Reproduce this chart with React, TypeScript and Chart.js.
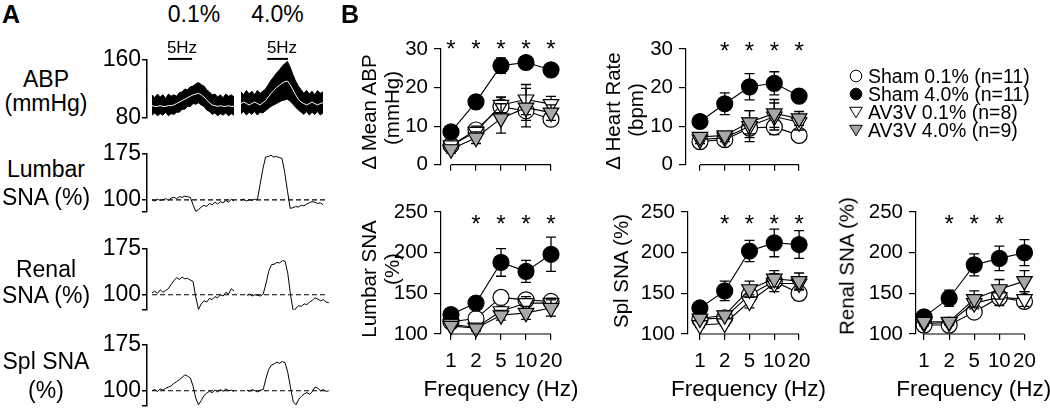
import React, { useEffect, useRef } from "react";
import { Chart, registerables } from "chart.js";

Chart.register(...registerables);

const FONT = "'Liberation Sans', Arial, Helvetica, sans-serif";
Chart.defaults.font.family = FONT;

/* ================= Panel A : example recordings ================= */
const A_DT = 1.5; // seconds between samples
const A_T_MIN = -2.75;
const A_T_MAX = 100.4;
const A_START_01 = 0;
const A_START_40 = [48.8, 48.8, 52, 52]; // ABP, Lumbar, Renal, Spl
const A_DASH_END = 95;
const STIM_01 = [8.8, 22.0];
const STIM_40 = [63.2, 74.6];
const STIM_LEVEL = 161.5;

const ABP_TICKS = [80, 160];
const LUMBAR_TICKS = [80, 100, 175];
const RENAL_TICKS = [75, 100, 175];
const SPL_TICKS = [75, 100, 175];
const ABP_LABELED = [80, 160];
const SNA_LABELED = [100, 175];

const abpMean01 = [97, 96, 96, 97, 96, 96, 97, 97, 98, 100, 102, 104, 106, 108, 110, 112, 113, 114, 112, 109, 105, 101, 98, 97, 96, 97, 96, 96, 97, 96, 96];
const abpUpper01 = [112, 108, 113, 109, 112, 107, 113, 110, 112, 110, 115, 116, 120, 119, 123, 124, 127, 129, 126, 124, 119, 116, 112, 113, 109, 112, 108, 113, 110, 112, 109];
const abpLower01 = [84, 87, 83, 86, 84, 88, 83, 86, 85, 88, 88, 92, 92, 96, 96, 100, 99, 101, 98, 96, 91, 89, 85, 87, 83, 86, 84, 87, 83, 86, 84];
const abpMean40 = [100, 102, 100, 98, 100, 102, 100, 98, 101, 104, 109, 114, 118, 122, 125, 128, 130, 131, 126, 119, 112, 106, 102, 100, 98, 100, 102, 100, 98, 100, 101];
const abpUpper40 = [116, 112, 118, 113, 117, 112, 118, 114, 117, 120, 126, 132, 137, 142, 146, 151, 155, 158, 150, 140, 131, 124, 119, 114, 118, 113, 117, 112, 118, 114, 116];
const abpLower40 = [86, 89, 84, 88, 85, 89, 84, 88, 87, 90, 93, 96, 98, 100, 102, 104, 105, 106, 103, 99, 95, 91, 88, 85, 89, 84, 88, 85, 89, 84, 87];

const lumbar01 = [100, 98, 101, 99, 100, 102, 99, 103, 104, 102, 105, 104, 106, 105, 104, 92, 81, 84, 88, 91, 89, 94, 92, 96, 93, 97, 95, 99, 96, 101, 98];
const lumbar40 = [99, 101, 98, 100, 99, 101, 100, 125, 150, 170, 171, 173, 170, 171, 169, 168, 145, 115, 86, 87, 89, 88, 91, 90, 93, 95, 97, 96, 94, 95, 92];
const renal01 = [103, 106, 102, 108, 104, 107, 110, 117, 123, 128, 125, 129, 126, 127, 124, 122, 96, 76, 85, 90, 88, 94, 92, 97, 95, 100, 98, 104, 101, 110, 106];
const renal40 = [99, 101, 98, 100, 99, 98, 101, 118, 138, 149, 150, 153, 152, 156, 155, 135, 100, 73, 78, 82, 81, 85, 84, 88, 91, 95, 93, 90, 92, 88, 87];
const spl01 = [100, 102, 99, 103, 101, 104, 106, 108, 112, 115, 118, 122, 126, 124, 121, 108, 88, 77, 84, 92, 96, 99, 97, 101, 98, 102, 99, 103, 100, 101, 99];
const spl40 = [101, 99, 102, 100, 98, 101, 102, 120, 135, 142, 144, 147, 145, 148, 146, 130, 105, 82, 77, 86, 91, 95, 97, 94, 99, 106, 104, 100, 102, 99, 100];

/* ================= Panel B : frequency responses ================= */
const FREQ_LABELS = ["1", "2", "5", "10", "20"];
const SERIES_NAMES = ["Sham 0.1% (n=11)", "Sham 4.0% (n=11)", "AV3V 0.1% (n=8)", "AV3V 4.0% (n=9)"];
const TOP_Y_TICKS = [0, 10, 20, 30];
const BOTTOM_Y_TICKS = [100, 150, 200, 250];

// Δ Mean ABP (mmHg)
const mapSham01 = [5, 9, 15, 14, 11.8];
const mapSham01Err = [0.8, 1.2, 2.5, 2.5, 1.5];
const mapSham40 = [8.5, 16.3, 25.7, 26.5, 24.6];
const mapSham40Err = [0.8, 1, 2, 1, 1.3];
const mapAv01 = [5, 8.5, 15.5, 16.9, 15.7];
const mapAv01Err = [1, 1.5, 2, 3.9, 2];
const mapAv40 = [4, 7, 12, 14.8, 13.5];
const mapAv40Err = [1, 1.5, 3.8, 5, 2];
const MAP_STARS = [1, 1, 1, 1, 1];

// Δ Heart Rate (bpm)
const hrSham01 = [6, 6.5, 9.5, 9.8, 7.6];
const hrSham01Err = [0.8, 0.8, 2.5, 2, 0.8];
const hrSham40 = [11.2, 15.8, 20.2, 21.1, 17.8];
const hrSham40Err = [1.2, 2.8, 3.4, 3, 1.2];
const hrAv01 = [6.5, 7, 10, 12.5, 11];
const hrAv01Err = [1, 1, 4, 3.5, 2];
const hrAv40 = [7.2, 7.6, 11, 13.3, 12];
const hrAv40Err = [1, 1, 3, 3.6, 1.8];
const HR_STARS = [0, 1, 1, 1, 1];

// Lumbar SNA (%)
const lumSham01 = [115, 119, 145, 142, 140];
const lumSham01Err = [3, 3, 6, 8, 6];
const lumSham40 = [124, 138, 188, 177, 198];
const lumSham40Err = [4, 5, 17, 13.5, 21];
const lumAv01 = [112, 108, 128, 138, 138];
const lumAv01Err = [3, 4, 6, 8, 6];
const lumAv40 = [110, 107, 123, 126, 132];
const lumAv40Err = [3, 3, 6, 8, 10];
const LUM_STARS = [0, 1, 1, 1, 1];

// Spl SNA (%)
const splSham01 = [118, 120, 148, 165, 150];
const splSham01Err = [3, 4, 8, 9, 8];
const splSham40 = [132, 153, 202, 212, 210];
const splSham40Err = [4, 12, 13, 17, 17];
const splAv01 = [111, 113, 140, 162, 162];
const splAv01Err = [3, 3, 8, 10, 8];
const splAv40 = [119, 123, 155, 168, 165];
const splAv40Err = [3, 3, 10, 10, 10];
const SPL_STARS = [0, 1, 1, 1, 1];

// Renal SNA (%)
const renSham01 = [111, 111, 127, 145, 140];
const renSham01Err = [3, 3, 5, 8, 8];
const renSham40 = [121, 144, 185, 193, 200];
const renSham40Err = [3, 10, 13.5, 15, 16];
const renAv01 = [113, 114, 138, 145, 143];
const renAv01Err = [3, 3, 7, 10, 9];
const renAv40 = [115, 115, 143, 155, 165];
const renAv40Err = [3, 3, 10, 12, 13];
const REN_STARS = [0, 1, 1, 1, 0];

/* ================= styles / geometry ================= */
const GRAY = "#a8a8a8";
const SERIES_STYLE = [
  { fill: "#ffffff", shape: "circle", r: 8, rot: 0, order: 4 },
  { fill: "#000000", shape: "circle", r: 8, rot: 0, order: 3 },
  { fill: "#ffffff", shape: "triangle", r: 9, rot: 180, order: 2 },
  { fill: GRAY, shape: "triangle", r: 9, rot: 180, order: 1 },
];

const A_ROWS = [
  { key: "abp", top: 44, plotH: 58, yMin: 80, yMax: 160, ticks: ABP_TICKS, labeled: ABP_LABELED },
  { key: "lumbar", top: 138, plotH: 58, yMin: 80, yMax: 175, ticks: LUMBAR_TICKS, labeled: SNA_LABELED, t01: lumbar01, t40: lumbar40 },
  { key: "renal", top: 233, plotH: 61, yMin: 75, yMax: 175, ticks: RENAL_TICKS, labeled: SNA_LABELED, t01: renal01, t40: renal40 },
  { key: "spl", top: 329, plotH: 61, yMin: 75, yMax: 175, ticks: SPL_TICKS, labeled: SNA_LABELED, t01: spl01, t40: spl40 },
];
const A_LEFT = 90;
const A_YW = 57;
const A_PLOTW = 188;

const B_PANELS = [
  {
    title: [{ t: "\u0394 Mean ABP", cx: 369, cy: 111.5 }, { t: "(mmHg)", cx: 391.5, cy: 108 }],
    left: 350, top: 25, yW: 91, plotW: 120, plotH: 124, padTop: 24, xH: 10,
    xMin: -0.4, xMax: 4.4, yTicks: TOP_Y_TICKS, showX: false,
    series: [mapSham01, mapSham40, mapAv01, mapAv40], errs: [mapSham01Err, mapSham40Err, mapAv01Err, mapAv40Err],
    stars: MAP_STARS, starVal: 31.5,
  },
  {
    title: [{ t: "\u0394 Heart Rate", cx: 613, cy: 111 }, { t: "(bpm)", cx: 636, cy: 110 }],
    left: 593, top: 25, yW: 93, plotW: 123.3, plotH: 124, padTop: 24, xH: 10,
    xMin: -0.565, xMax: 4.4, yTicks: TOP_Y_TICKS, showX: false,
    series: [hrSham01, hrSham40, hrAv01, hrAv40], errs: [hrSham01Err, hrSham40Err, hrAv01Err, hrAv40Err],
    stars: HR_STARS, starVal: 31,
  },
  {
    title: [{ t: "Lumbar SNA", cx: 369, cy: 279 }, { t: "(%)", cx: 391.5, cy: 269 }],
    left: 350, top: 188, yW: 91, plotW: 120, plotH: 122, padTop: 24, xH: 76,
    xMin: -0.4, xMax: 4.4, yTicks: BOTTOM_Y_TICKS, showX: true,
    series: [lumSham01, lumSham40, lumAv01, lumAv40], errs: [lumSham01Err, lumSham40Err, lumAv01Err, lumAv40Err],
    stars: LUM_STARS, starVal: 243,
  },
  {
    title: [{ t: "Spl SNA (%)", cx: 621, cy: 271 }],
    left: 601, top: 188, yW: 87, plotW: 121.2, plotH: 122, padTop: 24, xH: 76,
    xMin: -0.48, xMax: 4.4, yTicks: BOTTOM_Y_TICKS, showX: true,
    series: [splSham01, splSham40, splAv01, splAv40], errs: [splSham01Err, splSham40Err, splAv01Err, splAv40Err],
    stars: SPL_STARS, starVal: 243,
  },
  {
    title: [{ t: "Renal SNA (%)", cx: 847, cy: 266 }],
    left: 827, top: 188, yW: 89, plotW: 115.5, plotH: 122, padTop: 24, xH: 76,
    xMin: -0.32, xMax: 4.3, yTicks: BOTTOM_Y_TICKS, showX: true,
    series: [renSham01, renSham40, renAv01, renAv40], errs: [renSham01Err, renSham40Err, renAv01Err, renAv40Err],
    stars: REN_STARS, starVal: 243,
  },
];
const B_PADR = 14;
const B_TICK_FONT = 20.5;

/* ================= plugins ================= */
const errorBarPlugin = {
  id: "errorBars",
  beforeDatasetDraw(chart: any, args: any) {
    const ds = chart.data.datasets[args.index];
    if (!ds.errs) return;
    const yScale = chart.scales.y;
    const ctx = chart.ctx;
    ctx.save();
    ctx.strokeStyle = "#000";
    ctx.lineWidth = 1.3;
    args.meta.data.forEach((pt: any, i: number) => {
      const v = ds.data[i].y;
      const e = ds.errs[i];
      const yT = yScale.getPixelForValue(v + e);
      const yB = yScale.getPixelForValue(v - e);
      ctx.beginPath();
      ctx.moveTo(pt.x, yT);
      ctx.lineTo(pt.x, yB);
      ctx.moveTo(pt.x - 5, yT);
      ctx.lineTo(pt.x + 5, yT);
      ctx.moveTo(pt.x - 5, yB);
      ctx.lineTo(pt.x + 5, yB);
      ctx.stroke();
    });
    ctx.restore();
  },
};

const axisStarPlugin = {
  id: "axisStars",
  afterDraw(chart: any) {
    const opts = chart.options.plugins.axisStars;
    if (!opts) return;
    const { ctx, chartArea } = chart;
    const xs = chart.scales.x;
    const ys = chart.scales.y;
    ctx.save();
    ctx.strokeStyle = "#000";
    ctx.lineWidth = 1.2;
    ctx.beginPath();
    ctx.moveTo(xs.getPixelForValue(0), chartArea.bottom);
    ctx.lineTo(xs.getPixelForValue(FREQ_LABELS.length - 1), chartArea.bottom);
    ctx.stroke();
    ctx.fillStyle = "#000";
    ctx.font = `24px ${FONT}`;
    ctx.textAlign = "center";
    ctx.textBaseline = "alphabetic";
    const yc = ys.getPixelForValue(opts.starVal);
    opts.stars.forEach((s: number, i: number) => {
      if (s) ctx.fillText("*", xs.getPixelForValue(i), yc + 0.58 * 24);
    });
    ctx.restore();
  },
};

/* ================= HTML text helpers ================= */
function Txt(props: { x: number; y: number; size: number; align?: string; bold?: boolean; children: any }) {
  const { x, y, size, align = "center", bold = false, children } = props;
  return (
    <div
      style={{
        position: "absolute",
        left: x,
        top: y - 0.3465 * size,
        lineHeight: 0,
        fontSize: size,
        fontWeight: bold ? 700 : 400,
        whiteSpace: "nowrap",
        fontFamily: FONT,
        color: "#000",
        transform: align === "center" ? "translateX(-50%)" : align === "right" ? "translateX(-100%)" : "none",
      }}
    >
      {children}
    </div>
  );
}

function VText(props: { cx: number; cy: number; size: number; text: string }) {
  const { cx, cy, size, text } = props;
  return (
    <div
      style={{
        position: "absolute",
        left: cx,
        top: cy,
        transform: "translate(-50%, -50%) rotate(-90deg)",
        fontSize: size,
        lineHeight: `${size}px`,
        whiteSpace: "nowrap",
        fontFamily: FONT,
        color: "#000",
      }}
    >
      {text}
    </div>
  );
}

export default function App() {
  const aRefs = useRef<(HTMLCanvasElement | null)[]>([]);
  const bRefs = useRef<(HTMLCanvasElement | null)[]>([]);

  useEffect(() => {
    const charts: Chart[] = [];
    const pts = (arr: number[], start: number) => arr.map((y, k) => ({ x: start + k * A_DT, y }));

    A_ROWS.forEach((row: any, i: number) => {
      const cv = aRefs.current[i];
      if (!cv) return;
      const datasets: any[] = [];
      if (row.key === "abp") {
        const s40 = A_START_40[0];
        datasets.push(
          { data: pts(abpUpper01, A_START_01), borderColor: "#000", borderWidth: 1, backgroundColor: "#000", fill: "+1", pointRadius: 0, order: 2 },
          { data: pts(abpLower01, A_START_01), borderColor: "#000", borderWidth: 1, fill: false, pointRadius: 0, order: 2 },
          { data: pts(abpUpper40, s40), borderColor: "#000", borderWidth: 1, backgroundColor: "#000", fill: "+1", pointRadius: 0, order: 2 },
          { data: pts(abpLower40, s40), borderColor: "#000", borderWidth: 1, fill: false, pointRadius: 0, order: 2 },
          { data: pts(abpMean01, A_START_01), borderColor: "#ffffff", borderWidth: 1, fill: false, pointRadius: 0, order: 0 },
          { data: pts(abpMean40, s40), borderColor: "#ffffff", borderWidth: 1, fill: false, pointRadius: 0, order: 0 },
          { data: STIM_01.map((x) => ({ x, y: STIM_LEVEL })), borderColor: "#000", borderWidth: 2, pointRadius: 0, clip: false, order: 0 },
          { data: STIM_40.map((x) => ({ x, y: STIM_LEVEL })), borderColor: "#000", borderWidth: 2, pointRadius: 0, clip: false, order: 0 }
        );
      } else {
        datasets.push(
          { data: [{ x: A_START_01, y: 100 }, { x: A_DASH_END, y: 100 }], borderColor: "#000", borderWidth: 1.2, borderDash: [5, 3], pointRadius: 0, order: 2 },
          { data: pts(row.t01, A_START_01), borderColor: "#000", borderWidth: 1, pointRadius: 0, order: 0 },
          { data: pts(row.t40, A_START_40[i]), borderColor: "#000", borderWidth: 1, pointRadius: 0, order: 0 }
        );
      }
      charts.push(
        new Chart(cv, {
          type: "line",
          data: { datasets },
          options: {
            responsive: false,
            animation: false,
            events: [],
            layout: { padding: { top: 16, bottom: 16, left: 0, right: 5 } },
            plugins: { legend: { display: false }, tooltip: { enabled: false } },
            elements: { line: { tension: 0 } },
            scales: {
              x: { type: "linear", display: false, min: A_T_MIN, max: A_T_MAX },
              y: {
                type: "linear",
                min: row.yMin,
                max: row.yMax,
                afterBuildTicks: (s: any) => {
                  s.ticks = row.ticks.map((v: number) => ({ value: v }));
                },
                afterFit: (s: any) => {
                  s.width = A_YW;
                },
                grid: { drawOnChartArea: false, drawTicks: true, tickLength: 5, color: "#000", lineWidth: 1.5 },
                border: { display: true, color: "#000", width: 1.5 },
                ticks: {
                  autoSkip: false,
                  padding: 1,
                  color: "#000",
                  font: { family: FONT, size: 23 },
                  callback: (v: any) => (row.labeled.includes(v) ? String(v) : ""),
                },
              },
            },
          } as any,
        })
      );
    });

    B_PANELS.forEach((p: any, i: number) => {
      const cv = bRefs.current[i];
      if (!cv) return;
      const datasets = p.series.map((vals: number[], k: number) => {
        const st = SERIES_STYLE[k];
        return {
          label: SERIES_NAMES[k],
          data: vals.map((y, j) => ({ x: j, y })),
          errs: p.errs[k],
          borderColor: "#000",
          borderWidth: 1.1,
          backgroundColor: st.fill,
          pointBackgroundColor: st.fill,
          pointBorderColor: "#000",
          pointBorderWidth: 1.2,
          pointRadius: st.r,
          pointStyle: st.shape,
          pointRotation: st.rot,
          order: st.order,
          clip: false,
          fill: false,
        };
      });
      charts.push(
        new Chart(cv, {
          type: "line",
          data: { datasets },
          plugins: [errorBarPlugin, axisStarPlugin],
          options: {
            responsive: false,
            animation: false,
            events: [],
            layout: { padding: { top: p.padTop, right: B_PADR, bottom: 0, left: 0 } },
            elements: { line: { tension: 0 } },
            plugins: {
              legend: { display: false },
              tooltip: { enabled: false },
              axisStars: { stars: p.stars, starVal: p.starVal },
            },
            scales: {
              x: {
                type: "linear",
                min: p.xMin,
                max: p.xMax,
                afterBuildTicks: (s: any) => {
                  s.ticks = FREQ_LABELS.map((_, j) => ({ value: j }));
                },
                afterFit: (s: any) => {
                  s.height = p.xH;
                },
                grid: { drawOnChartArea: false, drawTicks: true, tickLength: 6, color: "#000", lineWidth: 1.2 },
                border: { display: false },
                ticks: {
                  display: p.showX,
                  padding: 9,
                  color: "#000",
                  maxRotation: 0,
                  autoSkip: false,
                  font: { family: FONT, size: B_TICK_FONT },
                  callback: (v: any) => FREQ_LABELS[Math.round(v)] ?? "",
                },
              },
              y: {
                type: "linear",
                min: p.yTicks[0],
                max: p.yTicks[p.yTicks.length - 1],
                afterBuildTicks: (s: any) => {
                  s.ticks = p.yTicks.map((v: number) => ({ value: v }));
                },
                afterFit: (s: any) => {
                  s.width = p.yW;
                },
                grid: { drawOnChartArea: false, drawTicks: true, tickLength: 7, color: "#000", lineWidth: 1.2 },
                border: { display: true, color: "#000", width: 1.2 },
                ticks: { autoSkip: false, padding: 6, color: "#000", font: { family: FONT, size: B_TICK_FONT } },
              },
            },
          } as any,
        })
      );
    });

    return () => charts.forEach((c) => c.destroy());
  }, []);

  const legendBase = [83, 101, 119, 137];

  return (
    <div
      style={{
        position: "fixed",
        left: 0,
        top: 0,
        width: 1050,
        height: 410,
        overflow: "hidden",
        background: "#fff",
        fontFamily: FONT,
      }}
    >
      {A_ROWS.map((row, i) => {
        const h = 16 + row.plotH + 16;
        const w = A_YW + A_PLOTW + 5;
        return (
          <canvas
            key={"a" + i}
            ref={(el) => {
              aRefs.current[i] = el;
            }}
            width={w}
            height={h}
            style={{ position: "absolute", left: A_LEFT, top: row.top, width: w, height: h }}
          />
        );
      })}
      {B_PANELS.map((p, i) => {
        const w = Math.round(p.yW + p.plotW + B_PADR);
        const h = Math.round(p.padTop + p.plotH + p.xH);
        return (
          <canvas
            key={"b" + i}
            ref={(el) => {
              bRefs.current[i] = el;
            }}
            width={w}
            height={h}
            style={{ position: "absolute", left: p.left, top: p.top, width: w, height: h }}
          />
        );
      })}

      {B_PANELS.map((p, i) =>
        p.title.map((ln, j) => <VText key={`t${i}-${j}`} cx={ln.cx} cy={ln.cy} size={20.5} text={ln.t} />)
      )}
      {B_PANELS.filter((p) => p.showX).map((p, i) => (
        <Txt key={"f" + i} x={p.left + p.yW + p.plotW / 2} y={397} size={22.5}>
          Frequency (Hz)
        </Txt>
      ))}

      <Txt x={2} y={23} size={25} align="left" bold>A</Txt>
      <Txt x={341} y={23} size={25} align="left" bold>B</Txt>
      <Txt x={194} y={22} size={23}>0.1%</Txt>
      <Txt x={277.5} y={22} size={23}>4.0%</Txt>
      <Txt x={182} y={54} size={17}>5Hz</Txt>
      <Txt x={282} y={54} size={17}>5Hz</Txt>

      <Txt x={46} y={87} size={23}>ABP</Txt>
      <Txt x={46} y={110.5} size={23}>(mmHg)</Txt>
      <Txt x={46} y={177} size={23}>Lumbar</Txt>
      <Txt x={46} y={205} size={23}>SNA (%)</Txt>
      <Txt x={46} y={277} size={23}>Renal</Txt>
      <Txt x={46} y={302.5} size={23}>SNA (%)</Txt>
      <Txt x={46} y={369} size={23}>Spl SNA</Txt>
      <Txt x={46} y={398} size={23}>(%)</Txt>

      <svg width={1050} height={410} style={{ position: "absolute", left: 0, top: 0, pointerEvents: "none" }}>
        {SERIES_NAMES.map((_, k) => {
          const cy = legendBase[k] - 7;
          const cx = 856;
          const st = SERIES_STYLE[k];
          if (st.shape === "circle") {
            return <circle key={k} cx={cx} cy={cy} r={5.8} fill={st.fill} stroke="#000" strokeWidth={1} />;
          }
          return (
            <polygon
              key={k}
              points={`${cx - 6.3},${cy - 4.7} ${cx + 6.3},${cy - 4.7} ${cx},${cy + 5.8}`}
              fill={st.fill}
              stroke="#000"
              strokeWidth={1}
            />
          );
        })}
      </svg>
      {SERIES_NAMES.map((name, k) => (
        <Txt key={"l" + k} x={868} y={legendBase[k]} size={19.5} align="left">
          {name}
        </Txt>
      ))}
    </div>
  );
}
